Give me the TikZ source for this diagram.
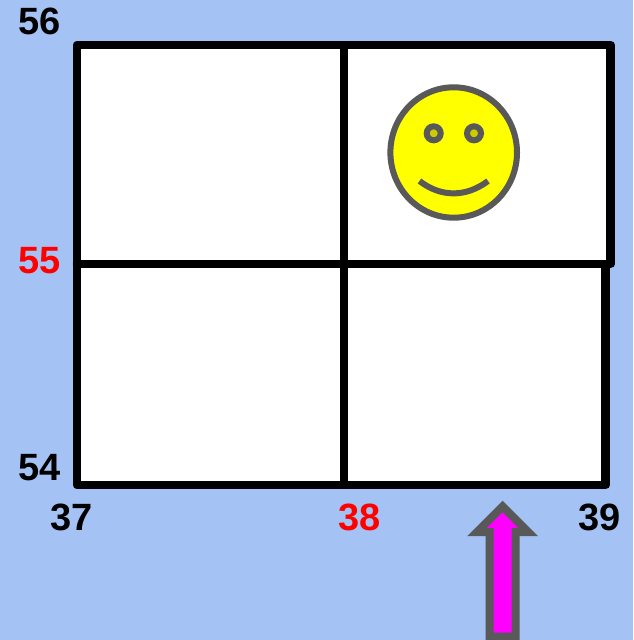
\documentclass[tikz,border=0pt]{standalone}
\usepackage{fontspec}
\setmainfont{Liberation Sans}
\definecolor{bgblue}{HTML}{A4C2F4}
\definecolor{facegray}{HTML}{595959}
\definecolor{faceyellow}{RGB}{255,255,0}
\definecolor{eyeyellow}{HTML}{CCCC00}
\definecolor{arrowpink}{RGB}{255,0,255}
\definecolor{labred}{RGB}{255,0,0}
\tikzset{
  gridline/.style={draw=black,line width=8.5pt,line join=round,line cap=round},
  lab/.style={inner sep=0pt,font=\fontsize{38pt}{38pt}\selectfont\bfseries},
  smile/.style={draw=facegray,line width=6pt},
}
\begin{document}
\begin{tikzpicture}[x=1pt,y=-1pt]
\useasboundingbox (0,0) rectangle (633,640);
\fill[bgblue] (0,0) rectangle (633,640);
% board
\fill[white] (77,45) -- (610.7,45) -- (610.7,264) -- (605.7,264) -- (605.7,485) -- (77,485) -- cycle;
\draw[gridline] (77,264) -- (77,45) -- (610.7,45) -- (610.7,264) -- (77,264);
\draw[gridline] (77,264) -- (77,485) -- (605.7,485) -- (605.7,266);
\draw[gridline,line cap=butt] (344,45) -- (344,485);
% face
\draw[smile,fill=faceyellow] (453.7,152.5) ellipse [x radius=63.3,y radius=65.2];
\draw[smile,fill=eyeyellow] (433.7,133.3) circle [radius=7];
\draw[smile,fill=eyeyellow] (474,133.3) circle [radius=7];
\draw[smile] (419.5,181) .. controls (441,197.5) and (466,197.5) .. (488,181);
% arrow
\draw[draw=facegray,fill=arrowpink,line width=8pt,miter limit=10]
  (502.5,506.4) -- (528.1,532) -- (515.5,532) -- (515.5,636.7) -- (489.7,636.7) -- (489.7,532) -- (476.9,532) -- cycle;
% labels
\node[lab] (n56) at (39.5,21) {56};
\node[lab,text=labred] (n55) at (39.5,261) {55};
\node[lab] (n54) at (39.5,468) {54};
\node[lab] (n37) at (71.5,517) {37};
\node[lab,text=labred] (n38) at (359.5,517) {38};
\node[lab] (n39) at (599.5,517) {39};
\end{tikzpicture}
\end{document}
